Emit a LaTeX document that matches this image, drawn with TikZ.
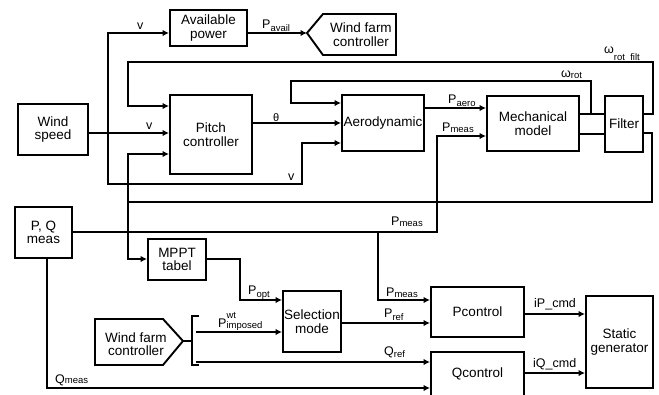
\documentclass[tikz,border=0pt]{standalone}
\usepackage{fontspec}
\setmainfont{Liberation Sans}
\usetikzlibrary{arrows.meta}
\newcommand\lsub[2][3pt]{\raisebox{-#1}{\fontsize{9.5}{9.5}\selectfont #2}}
\newcommand\lsup[2][5pt]{\raisebox{#1}{\fontsize{9.5}{9.5}\selectfont #2}}
\begin{document}
\begin{tikzpicture}[x=1pt,y=-1pt,
 blk/.style={draw,line width=1.9pt,align=center,inner sep=0pt,font=\fontsize{13.5}{13.5}\selectfont},
 btxt/.style={align=center,inner sep=0pt,font=\fontsize{13.5}{13.5}\selectfont},
 shp/.style={line width=1.9pt,line join=miter},
 ln/.style={line width=1.6pt},
 arr/.style={ln,-{Latex[length=6.5pt,width=6.5pt]}},
 lbl/.style={inner sep=0pt,anchor=base west,font=\fontsize{12.5}{13}\selectfont},
]
\useasboundingbox (0,0) rectangle (659,394);

% blocks
\node[blk,minimum width=77pt,minimum height=36pt] (avail) at (208.5,28) {Available\\power};
\node[blk,minimum width=70pt,minimum height=51pt] (wind) at (53,129.5) {Wind\\speed};
\node[blk,minimum width=82pt,minimum height=79pt] (pitch) at (211,134.5) {Pitch\\controller};
\node[blk,minimum width=82pt,minimum height=56pt] (aero) at (383,123) {Aerodynamic};
\node[blk,minimum width=92pt,minimum height=55pt] (mech) at (533,123.5) {Mechanical\\model};
\node[blk,minimum width=38pt,minimum height=56pt] (filter) at (624,124) {Filter};
\node[blk,minimum width=57pt,minimum height=51pt] (pq) at (43.5,232.5) {P, Q\\meas};
\node[blk,minimum width=58pt,minimum height=41pt] (mppt) at (177,259.5) {MPPT\\tabel};
\node[blk,minimum width=58pt,minimum height=61pt] (sel) at (312,321.5) {Selection\\mode};
\node[blk,minimum width=93pt,minimum height=50pt] (pc) at (477.5,312) {Pcontrol};
\node[blk,minimum width=93pt,minimum height=44pt] (qc) at (477.5,374) {Qcontrol};
\node[blk,minimum width=67pt,minimum height=92pt] (sg) at (619.5,342) {Static\\generator};

% wind farm controller (top), pointing left
\coordinate (wfc1tip) at (307,33);
\draw[shp] (wfc1tip) -- (323,14) -- (396,14) -- (396,55) -- (323,55) -- cycle;
\node[btxt] (wfc1) at (361,34.5) {Wind farm\\controller};

% wind farm controller (bottom), pointing right
\coordinate (wfc2tip) at (183,341);
\draw[shp] (wfc2tip) -- (163,365) -- (95,365) -- (95,319) -- (163,319) -- cycle;
\node[btxt] (wfc2) at (136,344) {Wind farm\\controller};

% connectors
\coordinate (jv) at (108,133);
\draw[arr] (wind.east|-0,133) -- (pitch.west|-0,133);
\draw[arr] (jv) -- (108,33) -- (avail.west|-0,33);
\draw[arr] (jv) -- (108,184) -- (302,184) -- (302,143) -- (aero.west|-0,143);
\draw[arr] (avail.east|-0,33) -- (wfc1tip);
\draw[arr] (pitch.east|-0,123) -- (aero.west|-0,123);
\draw[arr] (filter.east|-0,114) -- (653,114) -- (653,62) -- (128,62) -- (128,106) -- (pitch.west|-0,106);
\draw[arr] (591,114) -- (591,81) -- (291,81) -- (291,103) -- (aero.west|-0,103);
\draw[ln] (mech.east|-0,114) -- (filter.west|-0,114);
\draw[ln] (mech.east|-0,134) -- (filter.west|-0,134);
\draw[arr] (aero.east|-0,108) -- (mech.west|-0,108);
\coordinate (jf) at (128,202);
\draw[ln] (filter.east|-0,133) -- (652,133) -- (652,202) -- (jf);
\draw[arr] (jf) -- (128,154) -- (pitch.west|-0,154);
\draw[arr] (jf) -- (128,259) -- (mppt.west|-0,259);
\coordinate (jp) at (378,232);
\draw[arr] (pq.east|-0,232) -- (437,232) -- (437,136) -- (mech.west|-0,136);
\draw[arr] (jp) -- (378,300) -- (pc.west|-0,300);
\draw[arr] ([xshift=3.5pt]pq.south) -- (47,388) -- (qc.west|-0,388);
\draw[arr] (mppt.east|-0,259) -- (240,259) -- (240,300) -- (sel.west|-0,300);
\draw[ln] (wfc2tip) -- (192,341);
\draw[ln] (199,316) -- (192,316) -- (192,365) -- (199,365);
\draw[arr] (196,332) -- (sel.west|-0,332);
\draw[arr] (196,362) -- (qc.west|-0,362);
\draw[arr] (sel.east|-0,323) -- (pc.west|-0,323);
\draw[arr] (pc.east|-0,314) -- (sg.west|-0,314);
\draw[arr] (qc.east|-0,373) -- (sg.west|-0,373);

% labels
\node[lbl] (lv1) at (137,29) {v};
\node[lbl] (lpavail) at (262,28) {P\lsub{avail}};
\node[lbl] (lv2) at (146,129) {v};
\node[lbl,font=\fontsize{11}{11}\selectfont] (ltheta) at (273,121) {θ};
\node[lbl] (lv3) at (288,180) {v};
\node[lbl] (lpaero) at (448,103) {P\lsub{aero}};
\node[lbl] (lpmeas1) at (442,131) {P\lsub[1.5pt]{meas}};
\node[lbl] (lwrot) at (561,77) {ω\lsub[1pt]{rot}};
\node[lbl] (lwrotf) at (604,53) {ω\lsub[7pt]{rot\_filt}};
\node[lbl] (lpmeas2) at (391,225) {P\lsub[1.5pt]{meas}};
\node[lbl] (lpmeas3) at (386,296) {P\lsub[1.5pt]{meas}};
\node[lbl] (lpopt) at (248,294) {P\lsub{opt}};
\node[lbl] (lpimp) at (218,327) {P\makebox[0pt][l]{\lsup[9pt]{wt}}\lsub[1pt]{imposed}};
\node[lbl] (lpref) at (384,317) {P\lsub{ref}};
\node[lbl] (lqref) at (384,355) {Q\lsub[2pt]{ref}};
\node[lbl] (lqmeas) at (55,383) {Q\lsub[0.5pt]{meas}};
\node[lbl] (lip) at (534,307) {iP\_cmd};
\node[lbl] (liq) at (533,367) {iQ\_cmd};
\end{tikzpicture}
\end{document}
